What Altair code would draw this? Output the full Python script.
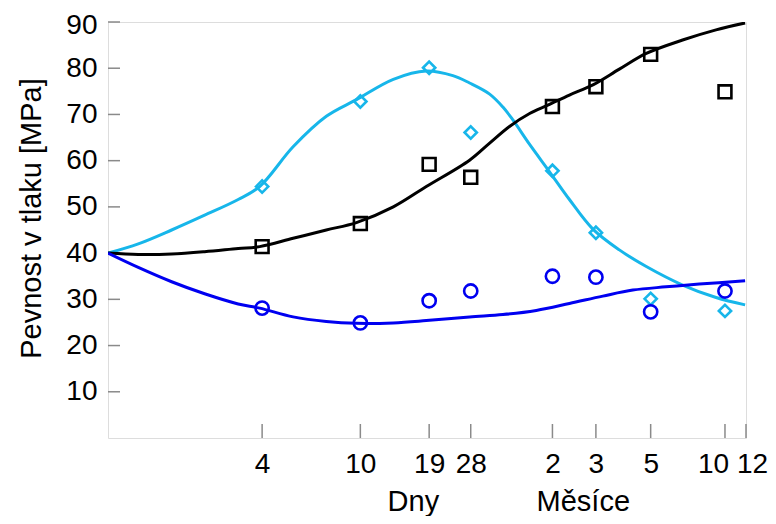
import altair as alt
import pandas as pd

# ---- measured points (x in days, y in MPa) ----
days = [4, 10, 19, 28, 60, 90, 150, 300]
cyan_pts = [54.4, 72.8, 80.1, 66.1, 57.8, 44.4, 30.1, 27.5]
black_pts = [41.4, 46.4, 59.2, 56.4, 71.7, 76.0, 83.0, 74.9]
blue_pts = [28.1, 24.9, 29.7, 31.8, 35.0, 34.8, 27.3, 31.8]

# ---- fitted curves ----
cyan_t = [0.95, 1.26, 1.72, 2.34, 3.2, 3.91, 5.34, 7.28, 9.64, 13.6, 18.5, 23.7, 27.7,
          33.4, 37.8, 41.5, 48.5, 58.4, 70.3, 87.5, 112, 144, 202, 276, 362]
cyan_v = [40, 42.0, 45.0, 48.2, 51.6, 54.4, 63.0, 69.6, 73.2, 77.6, 79.4, 78.4, 76.8,
          74.4, 71.6, 68.8, 63.5, 57.6, 51.6, 45.2, 40.7, 37.1, 33.1, 30.4, 28.8]

black_t = [0.95, 1.26, 1.72, 2.34, 3.2, 3.91, 5.34, 7.28, 9.64, 13.6, 18.5, 27.7, 33.4,
           40.2, 48.5, 57.5, 70.3, 87.5, 112, 144, 202, 276, 362]
black_v = [40, 39.7, 39.8, 40.3, 41.0, 41.4, 43.2, 45.0, 46.6, 50.0, 54.4, 60.1, 63.8,
           67.4, 70.2, 72.0, 74.2, 76.4, 79.8, 83.2, 86.1, 88.3, 89.8]

blue_t = [0.95, 1.26, 1.72, 2.34, 3.2, 3.91, 5.34, 7.28, 9.64, 13.6, 18.5, 27.7, 37.8,
          51.6, 70.3, 96, 127, 173, 236, 362]
blue_v = [40, 36.9, 33.8, 31.2, 29.0, 28.1, 26.2, 25.2, 24.8, 24.9, 25.4, 26.2, 26.7,
          27.6, 29.1, 30.7, 32.0, 32.7, 33.3, 34.0]

# ---- axes ----
tick_days = [4, 10, 19, 28, 60, 90, 150, 300, 365]
tick_labels = ["4", "10", "19", "28", "2", "3", "5", "10", "12"]
y_ticks = [10, 20, 30, 40, 50, 60, 70, 80, 90]
group_labels = ["Dny", "Měsíce"]
group_pos = [16.4, 80.0]

CYAN = "#17B6EA"
BLUE = "#0000F0"
BLACK = "#000000"
FRAME = "#8a8a8a"
FONT = "Liberation Sans"
W, H = 638, 416

x_scale = alt.Scale(type="log", domain=[0.95, 365], nice=False)
y_scale = alt.Scale(domain=[0, 90], nice=False)

label_expr = ""
for d, l in zip(tick_days, tick_labels):
    label_expr += f"datum.value == {d} ? '{l}' : "
label_expr += "datum.label"

x_axis = alt.Axis(
    values=tick_days, labelExpr=label_expr, title=None, grid=False, domain=False,
    ticks=False, labelFontSize=28, labelPadding=12, labelFlush=False,
    labelOverlap=False, labelColor="black", labelFont=FONT,
    labelOffset={"condition": [{"test": "datum.value == 300", "value": -12},
                               {"test": "datum.value == 365", "value": 6}],
                 "value": 0},
)
y_axis = alt.Axis(
    values=y_ticks, title="Pevnost v tlaku [MPa]", grid=False, domain=False,
    ticks=False, labelFontSize=28, labelPadding=11, labelColor="black",
    labelFont=FONT, titleFont=FONT, titleFontSize=29, titleFontWeight="normal",
    titleColor="black", titleX=-68, titleY=196, titleAngle=-90,
    titleAlign="center", titleBaseline="alphabetic",
    labelOffset={"condition": {"test": "datum.value == 90", "value": 3}, "value": 0},
)

X = lambda f: alt.X(f, type="quantitative", scale=x_scale, axis=x_axis)
Y = lambda f: alt.Y(f, type="quantitative", scale=y_scale, axis=y_axis)

layers = []

# inward tick marks
ydf = pd.DataFrame({"v": y_ticks})
layers.append(alt.Chart(ydf).mark_rule(color=FRAME, strokeWidth=1.5).encode(
    y=Y("v"), x=alt.value(0), x2=alt.value(12)))
xdf = pd.DataFrame({"t": tick_days})
layers.append(alt.Chart(xdf).mark_rule(color=FRAME, strokeWidth=1.5).encode(
    x=X("t"), y=alt.value(H), y2=alt.value(H - 14)))

# curves
for t, v, c in [(cyan_t, cyan_v, CYAN), (black_t, black_v, BLACK), (blue_t, blue_v, BLUE)]:
    df = pd.DataFrame({"t": t, "v": v})
    layers.append(alt.Chart(df).mark_line(color=c, strokeWidth=3, interpolate="catmull-rom",
                                          clip=True).encode(x=X("t"), y=Y("v")))

# markers
for vals, c, shape, size in [(cyan_pts, CYAN, "diamond", 150),
                             (black_pts, BLACK, "square", 165),
                             (blue_pts, BLUE, "circle", 175)]:
    df = pd.DataFrame({"t": days, "v": vals})
    layers.append(alt.Chart(df).mark_point(color=c, shape=shape, size=size, filled=False,
                                           strokeWidth=2.6, opacity=1).encode(
        x=X("t"), y=Y("v")))

# group labels under the axis
gdf = pd.DataFrame({"t": group_pos, "lab": group_labels})
layers.append(alt.Chart(gdf).mark_text(fontSize=29, font=FONT, color="black",
                                       baseline="alphabetic", align="center").encode(
    x=X("t"), y=alt.value(H + 73), text="lab:N"))

chart = alt.layer(*layers).properties(
    width=W, height=H,
    autosize=alt.AutoSizeParams(type="none"),
    padding={"left": 100, "top": 14, "right": 22, "bottom": 78},
).configure_view(stroke=FRAME, strokeWidth=1.5).configure(background="white")

chart.save("out.html", embed_options={"renderer": "svg", "actions": False})
